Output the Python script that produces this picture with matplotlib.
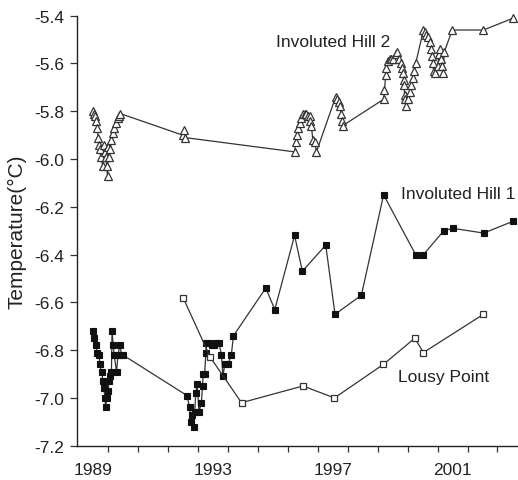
import numpy as np
import matplotlib.pyplot as plt
from matplotlib.ticker import FixedLocator, FormatStrFormatter

plt.rcParams['font.family'] = ['Liberation Sans', 'DejaVu Sans']
plt.rcParams['axes.unicode_minus'] = False

# Involuted Hill 2 (open triangles)
ih2_years = [1989.01, 1989.04, 1989.07, 1989.10, 1989.14, 1989.18, 1989.21, 1989.24, 1989.26,
             1989.33, 1989.36, 1989.41, 1989.44, 1989.46, 1989.49, 1989.51, 1989.54, 1989.58,
             1989.62, 1989.66, 1989.72, 1989.78, 1989.83, 1989.87, 1989.92,
             1992.00, 1992.03, 1992.06,
             1995.73, 1995.77, 1995.81, 1995.84, 1995.90, 1995.96, 1996.01, 1996.07, 1996.12,
             1996.18, 1996.23, 1996.26, 1996.29, 1996.34, 1996.40, 1996.46,
             1997.10, 1997.14, 1997.21, 1997.23, 1997.29, 1997.32, 1997.34,
             1998.70, 1998.73, 1998.77, 1998.79, 1998.84, 1998.90, 1998.96, 1999.01, 1999.10,
             1999.14, 1999.21, 1999.29, 1999.32, 1999.34, 1999.37, 1999.38, 1999.40, 1999.42,
             1999.46, 1999.51, 1999.57, 1999.62, 1999.68, 1999.73, 1999.77,
             2000.03, 2000.07, 2000.12, 2000.18, 2000.26, 2000.29, 2000.32, 2000.34, 2000.37,
             2000.43, 2000.51, 2000.54, 2000.57, 2000.62, 2000.66, 2000.68, 2000.73,
             2000.99, 2002.03, 2003.03]
ih2_temps = [-5.80, -5.81, -5.82, -5.84, -5.87, -5.91, -5.94, -5.96, -5.99,
             -6.03, -5.94, -5.97, -5.99, -6.03, -6.07, -5.95, -5.99, -5.96,
             -5.92, -5.89, -5.87, -5.85, -5.83, -5.82, -5.81,
             -5.90, -5.88, -5.91,
             -5.97, -5.93, -5.90, -5.87, -5.85, -5.83, -5.81, -5.81, -5.81,
             -5.82, -5.82, -5.84, -5.86, -5.92, -5.93, -5.97,
             -5.74, -5.75, -5.76, -5.78, -5.81, -5.84, -5.86,
             -5.75, -5.71, -5.65, -5.62, -5.59, -5.58, -5.58, -5.58, -5.56,
             -5.55, -5.58, -5.60, -5.62, -5.64, -5.67, -5.69, -5.73, -5.75,
             -5.78, -5.75, -5.72, -5.69, -5.66, -5.63, -5.60,
             -5.46, -5.47, -5.48, -5.49, -5.51, -5.54, -5.57, -5.60, -5.63,
             -5.64, -5.61, -5.56, -5.54, -5.58, -5.61, -5.64, -5.55,
             -5.46, -5.46, -5.41]

# Involuted Hill 1 (filled squares)
ih1_years = [1989.01, 1989.03, 1989.10, 1989.14, 1989.21, 1989.23, 1989.29, 1989.34, 1989.37,
             1989.40, 1989.43, 1989.46, 1989.51, 1989.54, 1989.58, 1989.62, 1989.64, 1989.68,
             1989.71, 1989.79, 1989.84, 1989.90, 1989.96, 1990.00,
             1992.14, 1992.23, 1992.27, 1992.32, 1992.37, 1992.40, 1992.43, 1992.48, 1992.54,
             1992.62, 1992.66, 1992.68, 1992.73, 1992.77, 1992.79, 1992.88, 1992.96, 1993.03,
             1993.12, 1993.21, 1993.29, 1993.34, 1993.40, 1993.51, 1993.62, 1993.69,
             1994.77, 1995.07, 1995.73, 1995.99, 1996.77, 1997.08, 1997.96, 1998.70,
             1999.77, 2000.03, 2000.71, 2001.01, 2002.04, 2003.03]
ih1_temps = [-6.72, -6.75, -6.78, -6.81, -6.82, -6.86, -6.89, -6.93, -6.96,
             -7.00, -7.04, -7.00, -6.97, -6.93, -6.91, -6.89, -6.72, -6.78,
             -6.82, -6.89, -6.82, -6.78, -6.82, -6.82,
             -6.99, -7.04, -7.10, -7.07, -7.12, -7.06, -6.98, -6.94, -7.06,
             -7.02, -6.95, -6.90, -6.90, -6.81, -6.77, -6.77, -6.78, -6.78,
             -6.77, -6.77, -6.82, -6.91, -6.86, -6.86, -6.82, -6.74,
             -6.54, -6.63, -6.32, -6.47, -6.36, -6.65, -6.57, -6.15,
             -6.40, -6.40, -6.30, -6.29, -6.31, -6.26]

# Lousy Point (open squares)
lp_years = [1992.01, 1992.92, 1993.96, 1996.01, 1997.06, 1998.69, 1999.74, 2000.03, 2002.03]
lp_temps = [-6.58, -6.83, -7.02, -6.95, -7.00, -6.86, -6.75, -6.81, -6.65]

year_labels = [1989, 1993, 1997, 2001]
temp_ticks = np.arange(-7.2, -5.39, 0.2)

fig = plt.figure(figsize=(5.18, 4.81), dpi=100)
ax = fig.add_axes([0.1486, 0.0713, 0.8494, 0.894])

line_kw = dict(color='#333333', lw=0.9, clip_on=False)
ax.plot(ih2_years, ih2_temps, marker='^', ms=5.5, mfc='white', mec='#333333', mew=0.9, **line_kw)
ax.plot(ih1_years, ih1_temps, marker='s', ms=4.6, mfc='#111111', mec='#111111', mew=0.8, **line_kw)
ax.plot(lp_years, lp_temps, marker='s', ms=5, mfc='white', mec='#333333', mew=0.9, **line_kw)

ax.text(1995.12, -5.509, 'Involuted Hill 2', fontsize=12.5, va='center', ha='left', color='#222222')
ax.text(1999.29, -6.143, 'Involuted Hill 1', fontsize=12.5, va='center', ha='left', color='#222222')
ax.text(1999.18, -6.911, 'Lousy Point', fontsize=12.5, va='center', ha='left', color='#222222')

ax.set_xlim(1988.47, 2003.15)
ax.set_ylim(-7.2, -5.4)

# yearly ticks sit between years; labels centred on the years
ax.xaxis.set_major_locator(FixedLocator(np.arange(1989.5, 2003.0, 1.0)))
ax.xaxis.set_major_formatter(plt.NullFormatter())
ax.xaxis.set_minor_locator(FixedLocator(year_labels))
ax.set_xticklabels([str(y) for y in year_labels], minor=True)
ax.tick_params(axis='x', which='major', direction='out', length=4, width=0.9, color='#333333')
ax.tick_params(axis='x', which='minor', length=0, pad=12, labelsize=12.5, labelcolor='#222222')

ax.set_yticks(temp_ticks)
ax.yaxis.set_major_formatter(FormatStrFormatter('%.1f'))
ax.tick_params(axis='y', direction='out', length=5, width=0.9, pad=4, labelsize=12.5,
               labelcolor='#222222', color='#333333')
ax.set_ylabel('Temperature(°C)', fontsize=15, color='#222222', labelpad=6)

for side in ['top', 'right']:
    ax.spines[side].set_visible(False)
for side in ['left', 'bottom']:
    ax.spines[side].set_linewidth(1.0)
    ax.spines[side].set_color('#222222')

fig.savefig('out.png', dpi=100)
